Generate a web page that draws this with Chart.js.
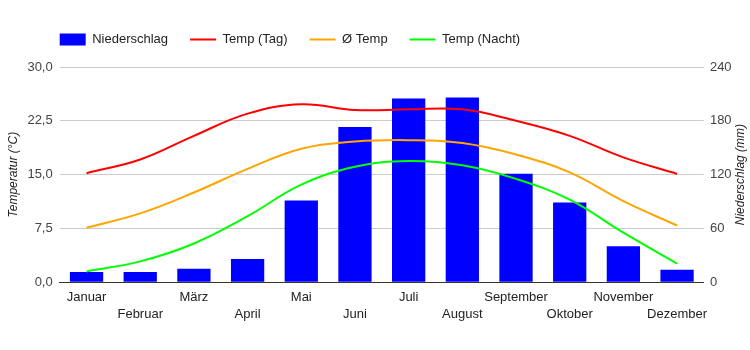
<!DOCTYPE html>
<html lang="de">
  <head>
    <meta charset="UTF-8" />
    <title>Klima</title>
    <script src="https://cdn.jsdelivr.net/npm/chart.js"></script>
    <style>
      html, body { margin: 0; padding: 0; background: #fff; }
      .chart-box { width: 750px; height: 350px; }
    </style>
  </head>
  <body>
    <div class="chart-box">
      <canvas id="klimaChart"></canvas>
    </div>
    <script>
      const months = ["Januar", "Februar", "März", "April", "Mai", "Juni", "Juli", "August", "September", "Oktober", "November", "Dezember"];
      const niederschlag = [11.5, 11.5, 15, 26, 91, 173, 205, 206, 121, 89, 40, 14];
      const tempTag = [15.2, 17.1, 20.4, 23.5, 24.8, 24.0, 24.1, 24.1, 22.5, 20.4, 17.4, 15.1];
      const tempMittel = [7.6, 9.6, 12.5, 15.8, 18.6, 19.6, 19.8, 19.4, 17.8, 15.3, 11.3, 7.9];
      const tempNacht = [1.5, 2.9, 5.4, 9.2, 13.6, 16.1, 16.9, 16.3, 14.4, 11.5, 6.9, 2.6];
      const tempTicks = [0, 7.5, 15, 22.5, 30];
      const rainTicks = [0, 60, 120, 180, 240];

      Chart.defaults.font.family = 'Arial, "Liberation Sans", sans-serif';
      Chart.defaults.font.size = 13;
      Chart.defaults.color = "#444";

      // legend starts at the left edge of the plot, right axis title reads bottom-up
      const layoutFix = {
        id: "layoutFix",
        afterLayout(chart) {
          const lg = chart.legend;
          const shift = chart.chartArea.left - (lg.left + lg.options.labels.padding);
          lg.left += shift;
          lg.right += shift;
          lg.top -= 11;
          lg.bottom -= 11;
        },
        afterDraw(chart) {
          const ctx = chart.ctx;
          const area = chart.chartArea;
          ctx.save();
          ctx.translate(741, (area.top + area.bottom) / 2);
          ctx.rotate(-Math.PI / 2);
          ctx.font = 'italic 12px Arial, "Liberation Sans", sans-serif';
          ctx.fillStyle = "#222";
          ctx.textAlign = "center";
          ctx.textBaseline = "middle";
          ctx.fillText("Niederschlag (mm)", 0, 0);
          ctx.restore();
        }
      };

      const lineStyle = (label, data, color) => ({
        type: "line",
        label: label,
        data: data,
        yAxisID: "y",
        borderColor: color,
        backgroundColor: color,
        borderWidth: 2,
        pointRadius: 0,
        pointStyle: "line",
        tension: 0.4,
        order: 0
      });

      new Chart(document.getElementById("klimaChart"), {
        type: "bar",
        data: {
          labels: months,
          datasets: [
            {
              type: "bar",
              label: "Niederschlag",
              data: niederschlag,
              yAxisID: "y1",
              backgroundColor: "#0000ff",
              borderWidth: 0,
              pointStyle: "rect",
              barPercentage: 0.62,
              categoryPercentage: 1,
              order: 1
            },
            lineStyle("Temp (Tag)", tempTag, "#ff0000"),
            lineStyle("Ø Temp", tempMittel, "#ffa500"),
            lineStyle("Temp (Nacht)", tempNacht, "#00ff00")
          ]
        },
        options: {
          responsive: true,
          maintainAspectRatio: false,
          animation: false,
          layout: { padding: { top: 22, left: 2, right: -2, bottom: 20 } },
          plugins: {
            tooltip: { enabled: false },
            legend: {
              align: "start",
              labels: {
                usePointStyle: true,
                pointStyleWidth: 26,
                boxWidth: 26,
                boxHeight: 12,
                padding: 22,
                color: "#222",
                font: { size: 13 },
                sort: (a, b) => a.datasetIndex - b.datasetIndex
              }
            }
          },
          scales: {
            x: {
              grid: { display: false, drawTicks: false },
              border: { color: "#333", width: 1 },
              ticks: {
                autoSkip: false,
                maxRotation: 0,
                padding: 7,
                color: "#222",
                font: { size: 13, lineHeight: 1.3 },
                callback: (v, i) => (i % 2 ? ["", months[i]] : [months[i], ""])
              }
            },
            y: {
              position: "left",
              min: 0,
              max: 30,
              afterBuildTicks: (s) => { s.ticks = tempTicks.map((v) => ({ value: v })); },
              grid: { color: "#ccc", drawTicks: false },
              border: { display: false },
              ticks: {
                padding: 7,
                callback: (v) => v.toFixed(1).replace(".", ",")
              },
              title: {
                display: true,
                text: "Temperatur (°C)",
                color: "#222",
                padding: { top: 4, bottom: 0 },
                font: { size: 12, style: "italic" }
              }
            },
            y1: {
              position: "right",
              min: 0,
              max: 240,
              afterBuildTicks: (s) => { s.ticks = rainTicks.map((v) => ({ value: v })); },
              grid: { drawOnChartArea: false, drawTicks: false },
              border: { display: false },
              ticks: { padding: 6 },
              title: {
                display: true,
                text: "Niederschlag (mm)",
                color: "transparent",
                padding: 0,
                font: { size: 12, style: "italic" }
              }
            }
          }
        },
        plugins: [layoutFix]
      });
    </script>
  </body>
</html>
